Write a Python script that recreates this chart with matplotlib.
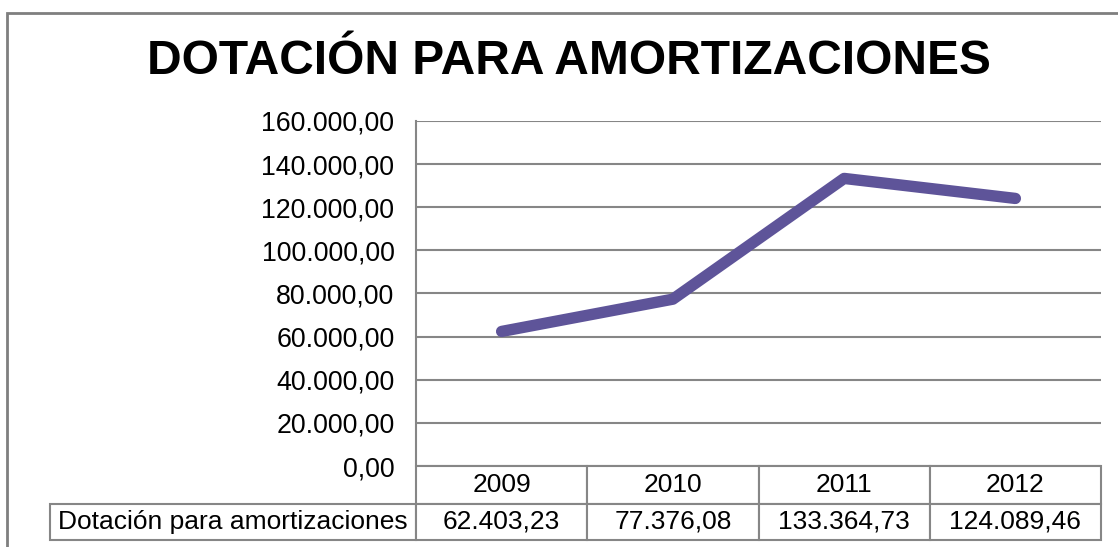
import matplotlib
matplotlib.use("Agg")
import matplotlib.pyplot as plt
from matplotlib.table import Table
from matplotlib.patches import Rectangle

# Data
years = ["2009", "2010", "2011", "2012"]
values = [62403.23, 77376.08, 133364.73, 124089.46]
value_labels = ["62.403,23", "77.376,08", "133.364,73", "124.089,46"]
series_name = "Dotación para amortizaciones"
title = "DOTACIÓN PARA AMORTIZACIONES"
yticks = [0, 20000, 40000, 60000, 80000, 100000, 120000, 140000, 160000]

plt.rcParams["font.family"] = ["Liberation Sans", "DejaVu Sans"]

W, H = 1118, 547
fig = plt.figure(figsize=(W / 100, H / 100), dpi=100)

# outer frame (chart border)
fig.patches.append(Rectangle((7 / W, -0.1), 1.2, 1 - 13 / H + 0.1,
                             transform=fig.transFigure, fill=False,
                             edgecolor="#7f7f7f", linewidth=2))

# plot area
left, right, top, bottom = 416, 1101, 121, 466
ax = fig.add_axes([left / W, 1 - bottom / H, (right - left) / W, (bottom - top) / H])

x = list(range(len(years)))
ax.plot(x, values, color="#5e5499", linewidth=8.2, solid_capstyle="round",
        solid_joinstyle="round", zorder=3)

ax.set_xlim(-0.5, len(years) - 0.5)
ax.set_ylim(0, 160000)
ax.set_yticks(yticks)
ax.set_yticklabels([f"{v:,.2f}".replace(",", "X").replace(".", ",").replace("X", ".") for v in yticks],
                   fontsize=19.3)
ax.tick_params(axis="y", length=0, pad=15.5)
ax.set_xticks([])
ax.grid(axis="y", color="#868686", linewidth=1.5)
ax.set_axisbelow(True)
for s in ["top", "right", "bottom"]:
    ax.spines[s].set_visible(False)
ax.spines["left"].set_color("#868686")
ax.spines["left"].set_linewidth(1.5)

# data table below the plot
aw = right - left
ah = bottom - top
label_w = 416 - 50
row1_h = 504 - 466
row2_h = 540 - 504
col_w = aw / len(years)
total_w = label_w + aw
total_h = row1_h + row2_h
tbl = Table(ax, bbox=[-label_w / aw, -total_h / ah, total_w / aw, total_h / ah])
for i, yr in enumerate(years):
    tbl.add_cell(0, i + 1, width=col_w, height=row1_h, text=yr, loc="center")
    tbl.add_cell(1, i + 1, width=col_w, height=row2_h, text=value_labels[i], loc="center")
tbl.add_cell(1, 0, width=label_w, height=row2_h, text=series_name, loc="center")
tbl.auto_set_font_size(False)
tbl.set_fontsize(19)
for cell in tbl.get_celld().values():
    cell.set_edgecolor("#868686")
    cell.set_linewidth(1.5)
ax.add_table(tbl)

fig.text(569 / W, 1 - 62 / H, title, ha="center", va="center",
         fontsize=34.5, fontweight="bold")

fig.savefig("out.png", dpi=100)
